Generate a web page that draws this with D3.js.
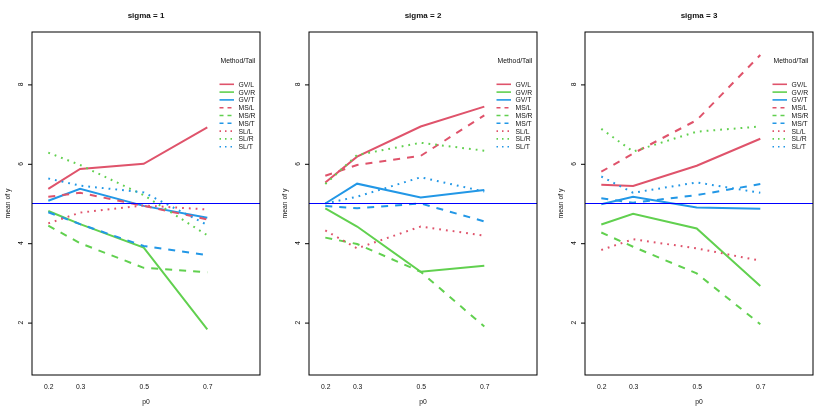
<!DOCTYPE html>
<html><head><meta charset="utf-8">
<script src="https://cdn.jsdelivr.net/npm/d3@7"></script>
<style>body{margin:0;background:#fff}svg{display:block;font-family:"Liberation Sans",Arial,sans-serif;will-change:transform}text{fill:#111}</style>
</head><body><svg id="c" width="830" height="415"></svg>
<script>
const p0 = [0.2, 0.3, 0.5, 0.7];
const xTicks = [0.2, 0.3, 0.5, 0.7];
const yTicks = [2, 4, 6, 8];
const panelTitles = ["sigma = 1", "sigma = 2", "sigma = 3"];
const seriesNames = ["GV/L","GV/R","GV/T","MS/L","MS/R","MS/T","SL/L","SL/R","SL/T"];
const tailColors = {L: "#DF536B", R: "#61D04F", T: "#2297E6"};
const methodDash = {GV: null, MS: "7,7", SL: "1.8,5"};
const legendDash = {GV: null, MS: "4,4", SL: "1.5,4"};
const refLine = 5;

// values per panel, rows in seriesNames order, columns in p0 order
const sigma1 = [
  [5.37, 5.87, 6.00, 6.92],
  [4.81, 4.48, 3.89, 1.83],
  [5.07, 5.37, 4.94, 4.64],
  [5.17, 5.27, 4.94, 4.60],
  [4.44, 4.00, 3.38, 3.27],
  [4.78, 4.48, 3.93, 3.70],
  [4.50, 4.77, 4.95, 4.85],
  [6.28, 5.97, 5.21, 4.20],
  [5.63, 5.45, 5.28, 4.46]
];
const sigma2 = [
  [5.53, 6.18, 6.94, 7.44],
  [4.88, 4.42, 3.28, 3.43],
  [5.00, 5.50, 5.15, 5.34],
  [5.70, 5.97, 6.20, 7.22],
  [4.14, 3.98, 3.28, 1.90],
  [4.94, 4.88, 5.00, 4.55],
  [4.32, 3.87, 4.42, 4.19],
  [5.49, 6.22, 6.53, 6.33],
  [5.00, 5.17, 5.66, 5.30]
];
const sigma3 = [
  [5.47, 5.44, 5.95, 6.63],
  [4.47, 4.74, 4.37, 2.92],
  [4.98, 5.17, 4.90, 4.87],
  [5.80, 6.26, 7.10, 8.74],
  [4.27, 3.91, 3.24, 1.96],
  [5.13, 5.02, 5.21, 5.49],
  [3.83, 4.10, 3.87, 3.56],
  [6.88, 6.31, 6.81, 6.94],
  [5.68, 5.27, 5.53, 5.27]
];
const panels = [sigma1, sigma2, sigma3];

const svg = d3.select("#c");
const W = 830, pw = W / 3;
const pLeft = 32, pRight = 260, pTop = 32, pBottom = 375;
const y = d3.scaleLinear().domain([0.68, 9.32]).range([pBottom, pTop]);

panels.forEach((data, pi) => {
  const ox = Math.round(pi * pw);
  const g = svg.append("g").attr("transform", `translate(${ox},0)`);
  const x = d3.scaleLinear().domain([0.2, 0.7]).range([48.3, 207.3]);
  const cx = (pLeft + pRight) / 2;
  const clipId = "clip" + pi;
  g.append("clipPath").attr("id", clipId).append("rect")
    .attr("x", pLeft).attr("y", pTop).attr("width", pRight - pLeft).attr("height", pBottom - pTop);

  g.append("text").attr("x", cx).attr("y", 18).attr("text-anchor", "middle")
    .attr("font-size", 8).attr("font-weight", "bold").text(panelTitles[pi]);

  const yAx = g.append("g").attr("transform", `translate(${pLeft},0)`)
    .call(d3.axisLeft(y).tickValues(yTicks).tickSize(4).tickFormat(d3.format("d")));
  yAx.select(".domain").remove();
  yAx.selectAll(".tick line").attr("stroke", "#000");
  yAx.selectAll(".tick text").remove();
  yTicks.forEach(t => {
    g.append("text").attr("transform", `translate(20,${y(t)}) rotate(-90)`)
      .attr("text-anchor", "middle").attr("dominant-baseline", "central")
      .attr("font-size", 6.8).text(t);
  });

  const xAx = g.append("g").attr("transform", `translate(0,${pBottom})`)
    .call(d3.axisBottom(x).tickValues(xTicks).tickSize(0).tickPadding(0).tickFormat(d3.format(".1f")));
  xAx.select(".domain").remove();
  xAx.selectAll(".tick text").attr("y", 14).attr("dy", 0).attr("font-size", 6.8)
    .attr("font-family", "Liberation Sans, Arial, sans-serif").attr("fill", "#111");

  g.append("text").attr("x", cx).attr("y", 404).attr("text-anchor", "middle")
    .attr("font-size", 6.8).text("p0");
  g.append("text").attr("transform", `translate(${pLeft - 25},${(pTop + pBottom) / 2}) rotate(-90)`)
    .attr("text-anchor", "middle").attr("dominant-baseline", "central")
    .attr("font-size", 6.8).text("mean of  y");

  const line = d3.line().x((d, i) => x(p0[i])).y(d => y(d));
  const lg = g.append("g").attr("clip-path", `url(#${clipId})`);
  seriesNames.forEach((name, si) => {
    const [m, t] = name.split("/");
    lg.append("path").datum(data[si]).attr("d", line)
      .attr("fill", "none").attr("stroke", tailColors[t]).attr("stroke-width", 2)
      .attr("stroke-dasharray", methodDash[m]);
  });

  const lx = pRight - 40.5;
  g.append("text").attr("x", pRight - 39.5).attr("y", 63).attr("font-size", 6.8).text("Method/Tail");
  seriesNames.forEach((name, si) => {
    const [m, t] = name.split("/");
    const ry = 84.3 + si * 7.8;
    g.append("line").attr("x1", lx).attr("x2", lx + 14.5).attr("y1", ry).attr("y2", ry)
      .attr("stroke", tailColors[t]).attr("stroke-width", 1.6)
      .attr("stroke-dasharray", legendDash[m]);
    g.append("text").attr("x", pRight - 21.5).attr("y", ry + 2.4).attr("font-size", 6.8).text(name);
  });

  g.append("line").attr("x1", pLeft).attr("x2", pRight).attr("y1", y(refLine)).attr("y2", y(refLine))
    .attr("stroke", "#0000FF").attr("stroke-width", 1);

  g.append("rect").attr("x", pLeft).attr("y", pTop).attr("width", pRight - pLeft).attr("height", pBottom - pTop)
    .attr("fill", "none").attr("stroke", "#000").attr("stroke-width", 1);
});
</script></body></html>
